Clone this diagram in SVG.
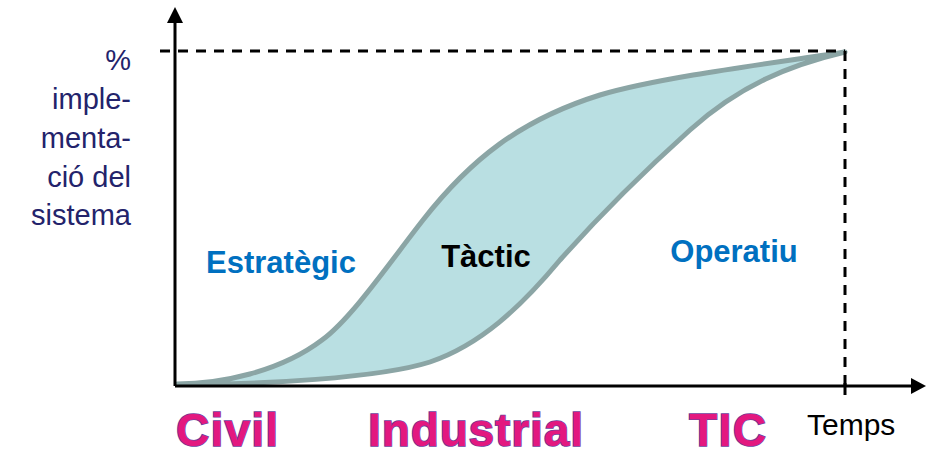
<svg xmlns="http://www.w3.org/2000/svg" width="927" height="457" viewBox="0 0 927 457">
<style>
.axis{stroke:#000;stroke-width:3;fill:none}
.dash{stroke:#000;stroke-width:3;fill:none;stroke-dasharray:10 8}
.area{fill:#b9dfe2;stroke:#8ba5a5;stroke-width:5;stroke-linejoin:round}
.ylab{font-family:"Liberation Sans",Arial,sans-serif;font-size:29px;fill:#23236b;text-anchor:end}
.zone{font-family:"Liberation Sans",Arial,sans-serif;font-size:31px;font-weight:bold;text-anchor:middle}
.era{font-family:"Liberation Sans",Arial,sans-serif;font-size:46px;font-weight:bold;fill:#e3187f;stroke:#6e3c9c;stroke-width:1.6;paint-order:stroke}
</style>
<rect width="927" height="457" fill="#fff"/>
<g id="area">
<path class="area" d="M177,384 C220,384 280,372 322,340 C352,318 390,262 423,220 C470,160 520,120 600,95 C660,77 780,62 845,52 C790,65 740,85 690,130 C640,175 600,215 560,260 C520,308 480,345 430,362 C380,378 260,385 177,384 Z"/>
</g>
<g id="connectors">
<line class="dash" x1="160" y1="51" x2="845" y2="51"/>
<line class="dash" x1="845" y1="51" x2="845" y2="386"/>
<line class="axis" x1="175" y1="386" x2="175" y2="20"/>
<polygon points="167,23 175,7 183,23" fill="#000"/>
<line class="axis" x1="175" y1="386" x2="913" y2="386"/>
<polygon points="911,378 926,386 911,394" fill="#000"/>
<line class="axis" x1="845" y1="383" x2="845" y2="395"/>
</g>
<g id="ylabel">
<text class="ylab" x="131" y="70">%</text>
<text class="ylab" x="131" y="109">imple-</text>
<text class="ylab" x="131" y="148">menta-</text>
<text class="ylab" x="131" y="187">ció del</text>
<text class="ylab" x="131" y="225">sistema</text>
</g>
<g id="zones">
<text class="zone" x="281" y="273" fill="#0070c0">Estratègic</text>
<text class="zone" x="486" y="267" fill="#000">Tàctic</text>
<text class="zone" x="734" y="262" fill="#0070c0">Operatiu</text>
</g>
<g id="eras">
<text class="era" x="176" y="446" textLength="102">Civil</text>
<text class="era" x="368" y="446" textLength="215">Industrial</text>
<text class="era" x="689" y="446" textLength="77">TIC</text>
</g>
<text x="807" y="435" font-family="'Liberation Sans',Arial,sans-serif" font-size="30" fill="#000">Temps</text>
</svg>
